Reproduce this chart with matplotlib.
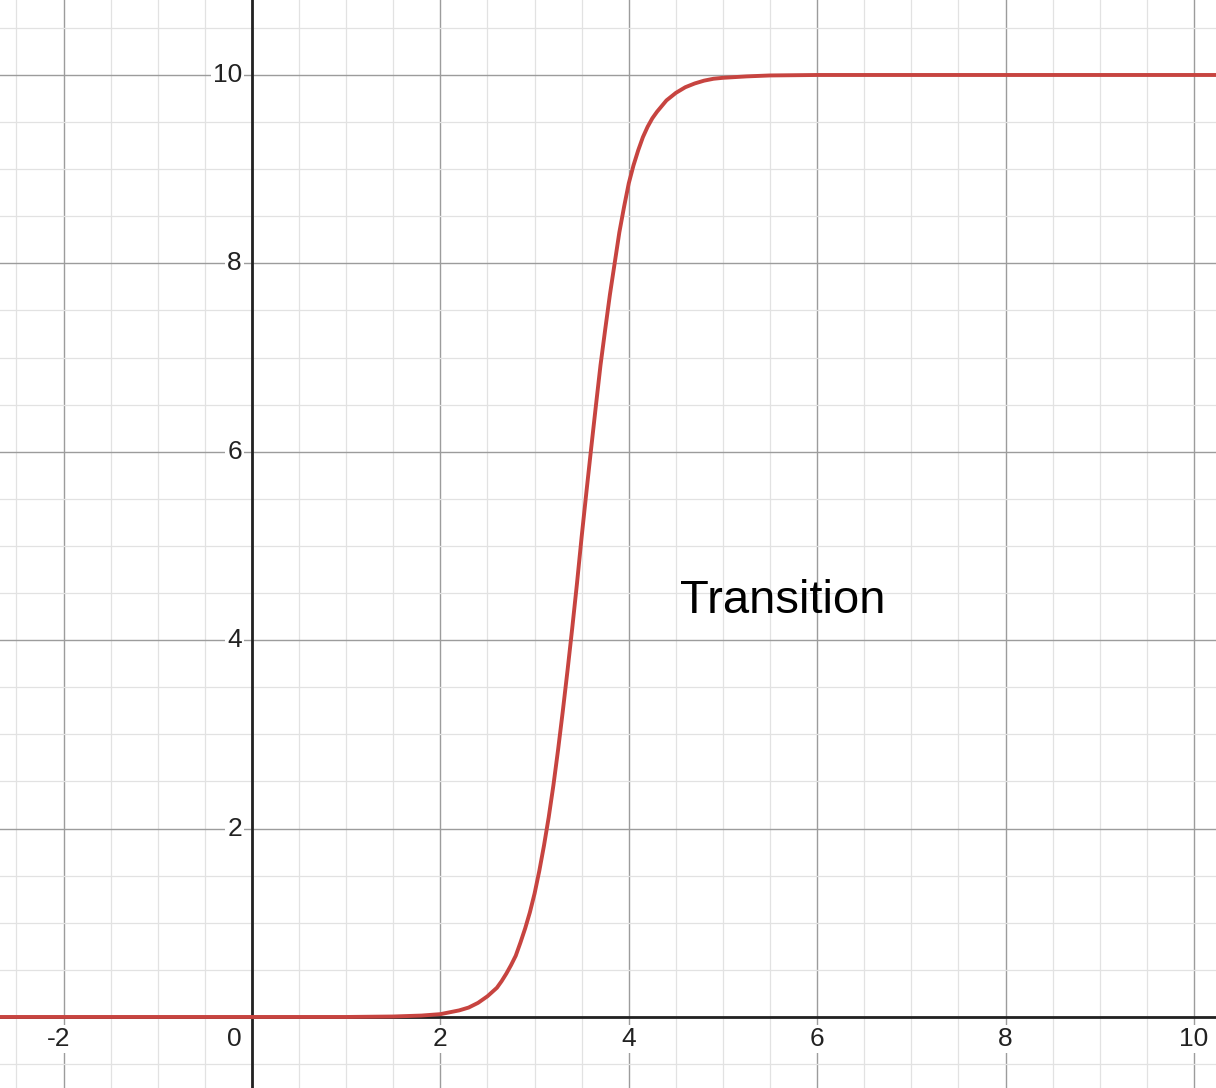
import matplotlib.pyplot as plt
import numpy as np

# points
curve_x = [-2.7, 1.0, 1.5, 1.8, 2.0, 2.2, 2.3, 2.4, 2.5, 2.6, 2.65, 2.7, 2.75, 2.8,
           2.85, 2.9, 2.95, 3.0, 3.05, 3.1, 3.15, 3.2, 3.25, 3.3, 3.35, 3.4, 3.45,
           3.5, 3.55, 3.6, 3.65, 3.7, 3.75, 3.8, 3.85, 3.9, 3.95, 4.0, 4.05, 4.1,
           4.15, 4.2, 4.25, 4.3, 4.35, 4.4, 4.5, 4.6, 4.7, 4.8, 4.9, 5.0, 5.25,
           5.5, 6.0, 10.3]
curve_y = [0.0, 0.0, 0.005, 0.015, 0.03, 0.07, 0.10, 0.15, 0.22, 0.31, 0.38, 0.46,
           0.55, 0.65, 0.79, 0.94, 1.11, 1.31, 1.55, 1.82, 2.12, 2.46, 2.84, 3.25,
           3.68, 4.13, 4.6, 5.1, 5.57, 6.03, 6.48, 6.92, 7.3, 7.67, 8.0, 8.33, 8.6,
           8.85, 9.04, 9.2, 9.34, 9.45, 9.54, 9.61, 9.67, 9.73, 9.81, 9.87, 9.91,
           9.94, 9.96, 9.97, 9.985, 9.995, 10.0, 10.0]

x_labels = [-2, 0, 2, 4, 6, 8, 10]
y_labels = [2, 4, 6, 8, 10]

plt.rcParams['font.family'] = ['Liberation Sans', 'DejaVu Sans']

fig = plt.figure(figsize=(12.16, 10.88), dpi=100)
ax = fig.add_axes([0, 0, 1, 1])
ax.set_xlim(-2.675, 10.234)
ax.set_ylim(-0.754, 10.796)

#major grid every 2, minor every 0.5 like desmos
ax.set_xticks(np.arange(-2, 11, 2))
ax.set_xticks(np.arange(-2.5, 10.5, 0.5), minor=True)
ax.set_yticks(np.arange(0, 11, 2))
ax.set_yticks(np.arange(-0.5, 11, 0.5), minor=True)
ax.grid(which='minor', color='#e2e2e2', lw=0.9)
ax.grid(which='major', color='#9c9c9c', lw=1.0)
ax.tick_params(which='both', length=0, labelbottom=False, labelleft=False)
for s in ax.spines.values():
    s.set_visible(False)
ax.set_axisbelow(True)

ax.axhline(0, color='#222222', lw=2.0, zorder=2)
ax.axvline(0, color='#222222', lw=2.0, zorder=2)

ax.plot(curve_x, curve_y, color='#c74440', lw=2.8, zorder=3,
        solid_capstyle='round', solid_joinstyle='round')

box = dict(facecolor='white', edgecolor='none', pad=1.5)
lab_kw = dict(textcoords='offset pixels', va='center', fontsize=19,
              color='#222222', bbox=box, zorder=4)
for v in x_labels:
    if v == 0:
        ax.annotate('0', (0, 0), xytext=(-10, -22), ha='right', **lab_kw)
    else:
        dx = -5 if v < 0 else 0
        ax.annotate(str(v), (v, 0), xytext=(dx, -22), ha='center', **lab_kw)
for v in y_labels:
    ax.annotate(str(v), (0, v), xytext=(-10, 0), ha='right', **lab_kw)

ax.text(4.54, 4.29, 'Transition', fontsize=34, color='black', va='baseline', ha='left', zorder=4)

plt.savefig('out.png', dpi=100)
